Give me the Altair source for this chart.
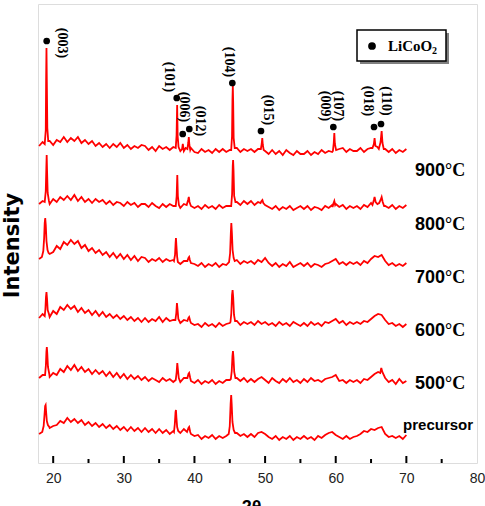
import numpy as np
import pandas as pd
import altair as alt

# ---------------------------------------------------------------------------
# XRD patterns of LiCoO2 calcined at different temperatures (stacked, a.u.)
# ---------------------------------------------------------------------------
TT_MIN, TT_MAX = 17.85, 80
I_MAX = 459

# background sampling positions, 2-theta in degrees (18.0 ... 70.0, 105 points)
tt_grid = np.round(np.arange(18.0, 70.001, 0.5), 2)

traces = ["900", "800", "700", "600", "500", "precursor"]
offsets = [313, 257, 200, 140, 83, 27]

# background (noise + amorphous hump) of each pattern, relative to its offset
base_900 = [4, 8, 6, 9, 5, 10, 8, 13, 8, 12, 9, 13, 7, 10, 6,
            9, 4, 7, 3, 6, 2, 6, 3, 7, 2, 5, 1, 4, 2, 5,
            4, 0, 3, -1, 4, 1, 3, 0, 3, 1, -1, 2, 0, 2, -2,
            -3, 1, -2, 0, -3, 1, -2, 1, -2, 0, 0, 2, -2, 1, -1,
            1, -2, 1, 0, -1, -4, 0, -4, -1, -5, 0, -3, -5, -1, -4,
            -4, -1, -5, -2, -4, 0, -3, -1, -2, 0, 1, 2, -2, 1, -1,
            -1, 2, -2, 1, 2, 4, 3, 4, 1, -2, 1, -3, 0, -2, 1]
base_800 = [2, 5, 4, 2, 7, 4, 9, 6, 10, 6, 11, 5, 9, 4, 7,
            3, 7, 4, 6, 2, 5, 1, 4, 3, 0, 4, 1, 3, -1, 2,
            2, -1, 3, 0, -2, 2, -1, 2, 0, 0, -2, 2, 3, 0, -2,
            0, -3, 1, -2, 0, -3, 1, -2, 0, 0, 0, 4, 1, 5, 2,
            5, 1, 4, 3, 1, -1, -3, 0, -4, -1, -3, 0, -4, -2, 0,
            -3, 0, -4, -1, -2, -4, 0, -2, 1, 2, -1, 1, -3, 0, -2,
            0, -3, 1, -1, 3, 4, 3, 5, 0, -2, 1, -3, 0, -2, 1]
base_700 = [4, 7, 8, 10, 11, 17, 14, 21, 18, 23, 19, 22, 15, 18, 12,
            15, 10, 13, 8, 11, 6, 10, 5, 9, 4, 8, 3, 7, 2, 6,
            5, 1, 4, 2, 5, 1, 4, 2, 3, 2, -1, 2, 3, 0, -1,
            -3, 0, -4, -1, -3, 0, -4, -1, -2, 0, 0, 3, -1, 2, 0,
            2, -1, 3, 1, 5, 0, -3, 0, -4, -1, -3, 1, -4, -2, 0,
            -3, 0, -4, -1, -2, -4, -1, 0, 2, 4, -1, 1, -2, 1, -1,
            1, -2, 2, 0, 4, 7, 6, 8, 2, -2, 0, -3, -1, -3, 0]
base_600 = [5, 9, 8, 6, 12, 9, 16, 13, 18, 14, 17, 11, 15, 10, 13,
            8, 12, 7, 11, 6, 9, 5, 8, 4, 7, 3, 6, 2, 5, 1,
            5, 1, 4, 2, 6, 1, 5, 2, 3, 2, 0, 3, 3, 0, -2,
            -1, -4, 0, -3, -1, -4, 0, -3, -1, 0, 0, 2, -2, 1, -1,
            1, -2, 2, -1, 1, -2, 0, -3, 1, -2, 0, -3, 1, -1, -3,
            0, -3, 1, -2, 0, -3, 1, 0, 2, 4, 0, 2, -2, 1, -1,
            1, -1, 2, 1, 4, 7, 9, 8, 3, -1, 0, -3, -1, -4, -1]
base_500 = [2, 5, 4, 3, 7, 5, 11, 8, 14, 10, 15, 9, 13, 8, 11,
            6, 10, 6, 9, 4, 8, 3, 7, 2, 6, 1, 5, 1, 4, 0,
            3, -1, 2, 0, -2, 2, -1, 1, -2, 1, -2, 2, 3, -1, -3,
            0, -4, -1, -3, 0, -4, -1, -3, 0, 0, 0, 2, -1, 2, -2,
            1, -2, 1, 3, 0, -3, 2, -1, -3, 1, -2, 2, -2, 0, -3,
            1, -2, 2, -1, 0, -2, 1, 2, 3, 5, -1, 0, -3, 0, -2,
            0, -3, 1, 0, 3, 6, 8, 11, 2, -2, 0, -4, 1, -3, -1]
base_pre = [2, 5, 8, 8, 10, 11, 15, 13, 18, 14, 17, 13, 16, 11, 14,
            10, 13, 9, 12, 8, 11, 7, 10, 6, 9, 5, 9, 5, 8, 4,
            8, 4, 7, 3, 7, 3, 6, 2, 5, 4, 3, 7, 8, 2, 0,
            1, -3, 0, -2, 1, -3, 0, -2, 0, 0, 0, 3, 0, 2, -1,
            2, -1, 3, 4, 2, -1, -3, 0, -4, -1, -3, 0, -4, -1, -3,
            0, -3, -1, -4, 0, -2, 1, 3, 4, 1, -1, -3, 0, -3, -1,
            0, 2, 5, 4, 7, 6, 8, 9, 2, -1, 0, -2, 0, -3, 1]

# reflections: 2-theta and intensity (relative to offset) around each peak
p900_tt = [[18.8, 18.95, 19.0, 19.05, 19.1, 19.17, 19.3],
           [37.35, 37.47, 37.55, 37.62, 37.75],
           [38.25, 38.35, 38.5, 38.75, 39.0, 39.12, 39.2, 39.28, 39.4],
           [45.2, 45.32, 45.38, 45.43, 45.48, 45.55, 45.7],
           [49.4, 49.52, 49.6, 49.68, 49.8],
           [59.6, 59.72, 59.8, 59.88, 60.05],
           [65.2, 65.4, 65.5, 65.62, 65.9, 66.1, 66.35, 66.5, 66.62, 66.8]]
p900_i = [[6, 20, 70, 102, 68, 22, 9],
          [2, 15, 45, 14, 3],
          [1, 6, -1, 2, 1, 7, 13, 5, 0],
          [0, 14, 50, 64, 48, 12, 2],
          [1, 6, 12, 5, 0],
          [-1, 7, 17, 6, 0],
          [2, 6, 12, 4, 3, 1, 8, 19, 7, 1]]

p800_tt = [[18.8, 18.95, 19.03, 19.08, 19.13, 19.22, 19.4],
           [37.35, 37.48, 37.57, 37.65, 37.8],
           [38.9, 39.1, 39.2, 39.3, 39.45],
           [45.2, 45.33, 45.42, 45.47, 45.53, 45.62, 45.8],
           [49.35, 49.5, 49.62, 49.75],
           [59.55, 59.7, 59.8, 59.92],
           [65.2, 65.4, 65.5, 65.65, 65.9, 66.15, 66.35, 66.5, 66.65, 66.85]]
p800_i = [[4, 15, 38, 51, 36, 13, 5],
          [0, 10, 31, 10, 1],
          [1, 6, 9, 4, 1],
          [0, 12, 40, 46, 36, 10, 4],
          [3, 5, 6, 3],
          [-1, 3, 5, 1],
          [1, 6, 9, 4, 2, 3, 6, 9, 4, 0]]

p700_tt = [[18.4, 18.6, 18.72, 18.8, 18.87, 18.95, 19.05, 19.2, 19.35, 19.5],
           [37.1, 37.25, 37.33, 37.38, 37.45, 37.55, 37.65],
           [39.0, 39.15, 39.25, 39.35],
           [44.9, 45.05, 45.15, 45.22, 45.3, 45.4, 45.55, 45.7]]
p700_i = [[6, 12, 25, 40, 45, 38, 22, 13, 10, 9],
          [2, 8, 20, 25, 17, 6, 1],
          [2, 5, 6, 3],
          [1, 10, 30, 40, 30, 13, 5, 2]]

p600_tt = [[18.8, 18.9, 18.98, 19.05, 19.12, 19.22, 19.4],
           [37.3, 37.43, 37.52, 37.6, 37.72],
           [39.0, 39.15, 39.25, 39.4],
           [45.1, 45.22, 45.32, 45.4, 45.48, 45.6, 45.75]]
p600_i = [[7, 14, 26, 31, 25, 13, 9],
          [3, 10, 20, 14, 4],
          [2, 5, 6, 2],
          [1, 10, 28, 33, 26, 8, 2]]

p500_tt = [[18.85, 18.97, 19.04, 19.1, 19.16, 19.26, 19.45],
           [37.35, 37.48, 37.57, 37.65, 37.78],
           [39.0, 39.15, 39.25, 39.4],
           [45.15, 45.28, 45.38, 45.45, 45.52, 45.63, 45.8],
           [66.3, 66.45, 66.6]]
p500_i = [[5, 15, 28, 33, 27, 13, 6],
          [0, 8, 17, 11, 2],
          [2, 6, 7, 2],
          [1, 9, 24, 29, 23, 8, 2],
          [7, 12, 8]]

ppre_tt = [[18.45, 18.65, 18.78, 18.86, 18.93, 19.0, 19.1, 19.25, 19.45],
           [37.1, 37.22, 37.32, 37.38, 37.45, 37.55, 37.7],
           [38.95, 39.15, 39.25, 39.4],
           [44.85, 45.0, 45.12, 45.2, 45.27, 45.38, 45.55, 45.75]]
ppre_i = [[4, 10, 22, 30, 31, 24, 15, 11, 9],
          [4, 12, 24, 26, 18, 9, 5],
          [4, 8, 9, 4],
          [2, 10, 32, 41, 32, 14, 6, 3]]

# LiCoO2 reflection markers and Miller indices
hkl_labels = ["(003)", "(101)", "(006)", "(012)", "(104)", "(015)",
              "(009)", "(107)", "(018)", "(110)"]
hkl_tt = [21.25, 36.40, 38.45, 40.79, 44.89, 50.41, 58.48, 60.32, 64.57, 67.12]
hkl_i = [420, 386, 356, 342, 401, 353, 357, 357, 362, 362]
marker_tt = [19.08, 37.49, 38.34, 39.27, 45.36, 49.42, 59.66, 65.42, 66.41]
marker_i = [422, 365, 329, 334, 380, 332, 336, 336, 339]

# temperature annotations
temp_labels = ["900", "800", "700", "600", "500"]
temp_i = [292, 238.5, 185, 132, 79]

major_ticks = [20, 30, 40, 50, 60, 70]
minor_ticks = [25, 35, 45, 55, 65, 75]


def trace_frame(name, offset, base, clusters_tt, clusters_i):
    grid = np.asarray(tt_grid)
    vals = np.asarray(base, dtype=float)
    assert len(vals) == len(grid)
    keep = np.ones(len(grid), dtype=bool)
    for c in clusters_tt:
        keep &= ~((grid >= min(c)) & (grid <= max(c)))
    tt = list(grid[keep]) + [t for c in clusters_tt for t in c]
    ii = list(vals[keep]) + [v for c in clusters_i for v in c]
    df = pd.DataFrame({"tt": tt, "I": np.asarray(ii, dtype=float) + offset})
    df["trace"] = name
    return df.sort_values("tt")


bases = [base_900, base_800, base_700, base_600, base_500, base_pre]
peaks_tt = [p900_tt, p800_tt, p700_tt, p600_tt, p500_tt, ppre_tt]
peaks_i = [p900_i, p800_i, p700_i, p600_i, p500_i, ppre_i]
patterns = pd.concat(
    [trace_frame(n, o, b, pt, pi)
     for n, o, b, pt, pi in zip(traces, offsets, bases, peaks_tt, peaks_i)],
    ignore_index=True,
)

W, H = 439, 459

x_scale = alt.Scale(domain=[TT_MIN, TT_MAX], nice=False, zero=False)
y_scale = alt.Scale(domain=[0, I_MAX], nice=False, zero=False)

x_axis = alt.Axis(
    values=[20, 30, 40, 50, 60, 70, 80], tickSize=0, domain=False, grid=False,
    labelFont="Liberation Sans", labelFontSize=14, labelColor="#222222",
    labelPadding=8, labelFlush=False,
    title="2θ", titleFont="Liberation Sans", titleFontSize=18,
    titleFontWeight="bold", titleColor="black",
    titleX=213, titleY=35, titleAlign="center", titleBaseline="top",
)
y_axis = alt.Axis(
    labels=False, ticks=False, domain=False, grid=False,
    title="Intensity", titleFont="DejaVu Sans", titleFontSize=21,
    titleFontWeight="bold", titleColor="black",
    titleX=-16, titleY=241, titleAngle=270, titleAlign="center",
    titleBaseline="bottom",
)

lines = alt.Chart(patterns).mark_line(
    color="#ff0000", strokeWidth=1.8, strokeJoin="miter", clip=True).encode(
    x=alt.X("tt:Q", scale=x_scale, axis=x_axis),
    y=alt.Y("I:Q", scale=y_scale, axis=y_axis),
    detail="trace:N",
    order="tt:Q",
)

major = alt.Chart(pd.DataFrame({"tt": major_ticks})).mark_rule(
    color="black", strokeWidth=2).encode(
    x=alt.X("tt:Q", scale=x_scale), y=alt.value(H), y2=alt.value(H - 7))
minor = alt.Chart(pd.DataFrame({"tt": minor_ticks})).mark_rule(
    color="black", strokeWidth=2).encode(
    x=alt.X("tt:Q", scale=x_scale), y=alt.value(H), y2=alt.value(H - 4))

markers = alt.Chart(pd.DataFrame({"tt": marker_tt, "I": marker_i})).mark_point(
    filled=True, color="black", size=45, opacity=1, shape="circle").encode(
    x=alt.X("tt:Q", scale=x_scale), y=alt.Y("I:Q", scale=y_scale))

hkl = alt.Chart(pd.DataFrame({"tt": hkl_tt, "I": hkl_i, "t": hkl_labels})).mark_text(
    angle=90, font="Liberation Serif", fontWeight="bold", fontSize=14,
    align="center", baseline="middle", color="black").encode(
    x=alt.X("tt:Q", scale=x_scale), y=alt.Y("I:Q", scale=y_scale), text="t:N")

one = pd.DataFrame({"k": [0]})
legend_shadow = alt.Chart(one).mark_rect(color="#808080").encode(
    x=alt.value(322), x2=alt.value(411), y=alt.value(29), y2=alt.value(60))
legend_box = alt.Chart(one).mark_rect(fill="white", stroke="black", strokeWidth=1.5).encode(
    x=alt.value(319), x2=alt.value(408), y=alt.value(26), y2=alt.value(57))
legend_dot = alt.Chart(one).mark_point(
    filled=True, color="black", size=60, opacity=1, shape="circle").encode(
    x=alt.value(334), y=alt.value(42))
legend_txt = alt.Chart(one).mark_text(
    font="Liberation Serif", fontWeight="bold", fontSize=15, align="left",
    baseline="middle", color="black").encode(
    x=alt.value(350), y=alt.value(42), text=alt.value("LiCoO"))
legend_sub = alt.Chart(one).mark_text(
    font="Liberation Serif", fontWeight="bold", fontSize=10, align="left",
    baseline="middle", color="black").encode(
    x=alt.value(394), y=alt.value(47), text=alt.value("2"))

temps = pd.DataFrame({"t": temp_labels, "I": temp_i, "tt": [75.47] * len(temp_labels)})
temp_num = alt.Chart(temps).mark_text(
    font="Liberation Sans", fontWeight="bold", fontSize=18, align="right",
    baseline="middle", color="black").encode(
    x=alt.X("tt:Q", scale=x_scale), y=alt.Y("I:Q", scale=y_scale), text="t:N")
temp_unit = alt.Chart(temps).mark_text(
    font="Liberation Serif", fontWeight="bold", fontSize=18, align="left",
    baseline="middle", color="black").encode(
    x=alt.X("tt:Q", scale=x_scale), y=alt.Y("I:Q", scale=y_scale),
    text=alt.value("°C"))
precursor = alt.Chart(pd.DataFrame({"t": ["precursor"], "I": [38], "tt": [69.53]})).mark_text(
    font="Liberation Sans", fontWeight="bold", fontSize=15, align="left",
    baseline="middle", color="black").encode(
    x=alt.X("tt:Q", scale=x_scale), y=alt.Y("I:Q", scale=y_scale), text="t:N")

chart = alt.layer(
    lines, major, minor, markers, hkl,
    legend_shadow, legend_box, legend_dot, legend_txt, legend_sub,
    temp_num, temp_unit, precursor,
).properties(
    width=W, height=H,
    autosize=alt.AutoSizeParams(type="none"),
    padding={"left": 38, "top": 4, "right": 8, "bottom": 43},
).configure_view(
    stroke="black", strokeWidth=2,
).configure(background="white")

chart.save("out.html", embed_options={"renderer": "svg", "actions": False})
